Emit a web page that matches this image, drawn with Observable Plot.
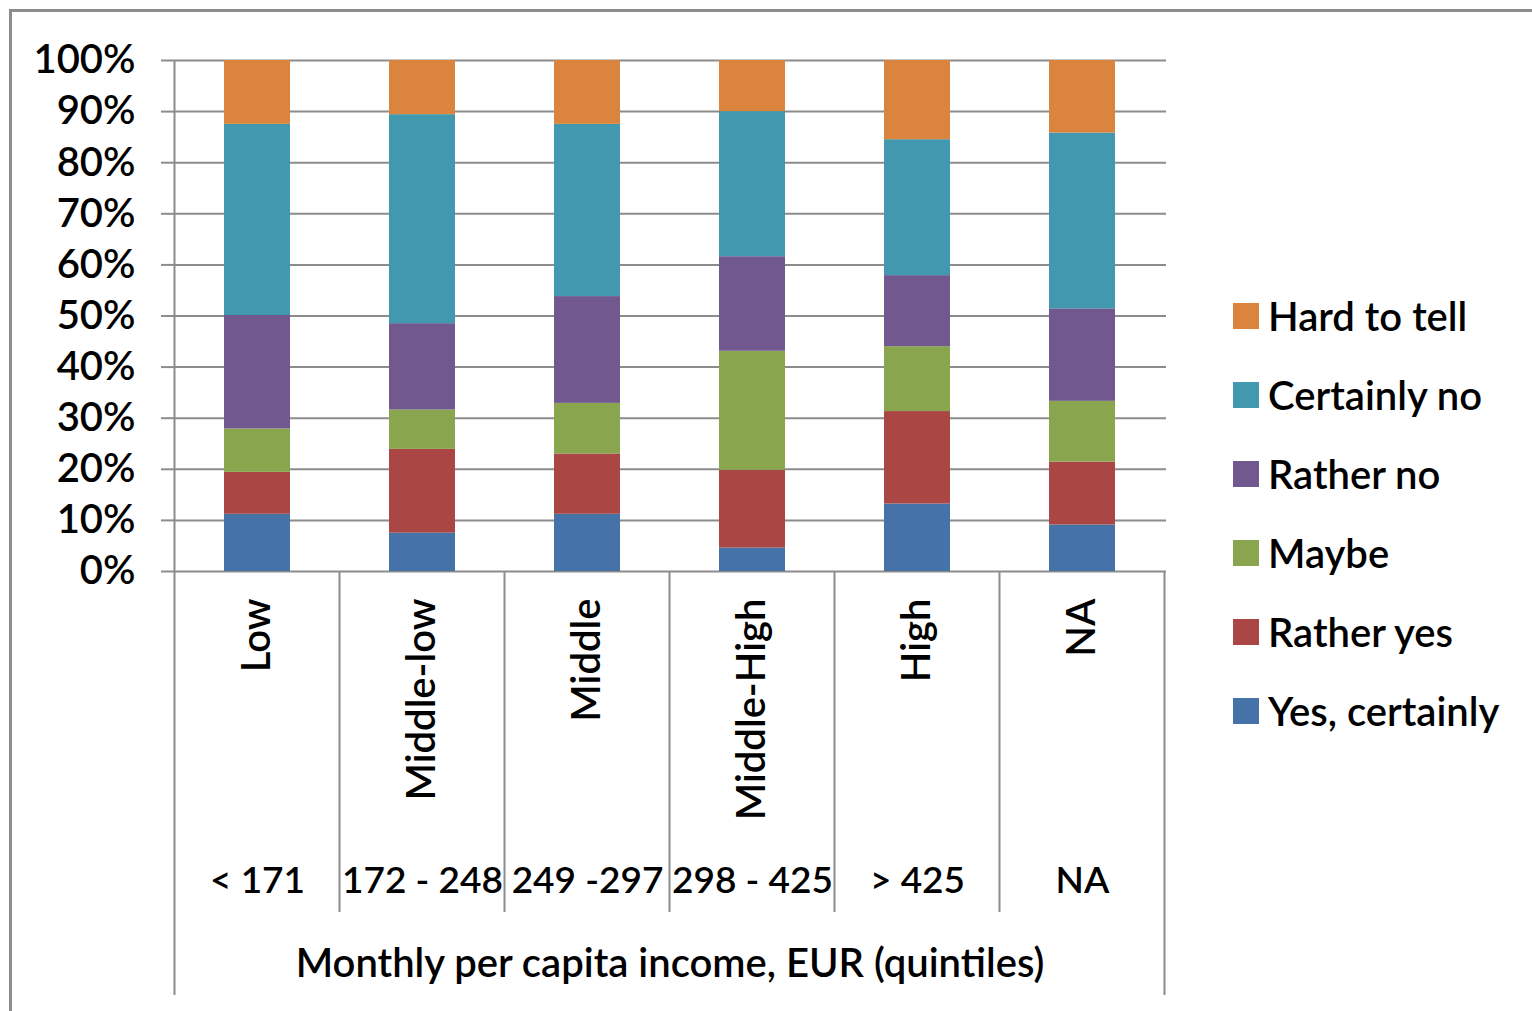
<!DOCTYPE html>
<html>
<head>
<meta charset="utf-8">
<script src="https://cdn.jsdelivr.net/npm/d3@7"></script>
<script src="https://cdn.jsdelivr.net/npm/@observablehq/plot@0.6"></script>
<style>
  html, body { margin: 0; padding: 0; background: #fff; }
  #wrap { position: relative; width: 1532px; height: 1011px; overflow: hidden; background: #fff; font-family: Lato, "Open Sans", sans-serif; }
  #frame { position: absolute; left: 9px; top: 9px; width: 1700px; height: 1200px; border-left: 3px solid #8c8c8c; border-top: 3px solid #8c8c8c; box-sizing: border-box; }
  #chart { position: absolute; left: 0; top: 0; }
  #legend { position: absolute; left: 1233px; top: 276px; }
  .item { display: flex; align-items: center; height: 79px; font-size: 40px; font-weight: 600; color: #000; white-space: nowrap; }
  .sw { width: 26px; height: 26px; margin-right: 9px; flex: none; }
</style>
</head>
<body>
<div id="wrap">
  <div id="frame"></div>
  <div id="chart"></div>
  <div id="legend"></div>
</div>
<script>
const categories = ["Low", "Middle-low", "Middle", "Middle-High", "High", "NA"];
const ranges = ["< 171", "172 - 248", "249 -297", "298 - 425", "> 425", "NA"];
const answers = ["Yes, certainly", "Rather yes", "Maybe", "Rather no", "Certainly no", "Hard to tell"];
const yesCertainly = [11.2, 7.5, 11.2, 4.6, 13.2, 9.1];
const ratherYes = [8.2, 16.4, 11.8, 15.2, 18.1, 12.3];
const maybe = [8.5, 7.7, 9.9, 23.3, 12.7, 11.9];
const ratherNo = [22.2, 16.9, 20.9, 18.5, 13.9, 18.1];
const certainlyNo = [37.4, 40.9, 33.7, 28.4, 26.6, 34.4];
const hardToTell = [12.5, 10.6, 12.5, 10.0, 15.5, 14.2];
const yTicks = [0, 0.1, 0.2, 0.3, 0.4, 0.5, 0.6, 0.7, 0.8, 0.9, 1];
const xTitle = "Monthly per capita income, EUR (quintiles)";
const colors = ["#4572A7", "#AA4643", "#89A54E", "#71588F", "#4198AF", "#DB843D"];

const series = [yesCertainly, ratherYes, maybe, ratherNo, certainlyNo, hardToTell];
const rows = [];
answers.forEach((a, j) => categories.forEach((c, i) => rows.push({category: c, answer: a, value: series[j][i] / 100})));

const fontStyle = {fontFamily: "Lato, 'Open Sans', sans-serif", fontSize: "40px", fontWeight: 600, color: "#000", background: "transparent", overflow: "visible"};

const plot = Plot.plot({
  width: 1532,
  height: 1011,
  marginLeft: 173,
  marginRight: 366,
  marginTop: 60,
  marginBottom: 440,
  style: fontStyle,
  x: {domain: categories, paddingInner: 0.6, paddingOuter: 0.3, align: 0.5},
  y: {domain: [0, 1]},
  color: {domain: answers, range: colors},
  marks: [
    Plot.gridY(yTicks, {stroke: "#8c8c8c", strokeOpacity: 1, strokeWidth: 2}),
    Plot.barY(rows, {x: "category", y: "value", fill: "answer", order: answers}),
    Plot.axisY(yTicks, {tickSize: 12, tickPadding: 26, tickFormat: d3.format(".0%"), stroke: "#8c8c8c", strokeWidth: 2, label: null, fill: "#000"}),
    Plot.axisX({tickSize: 0, tickRotate: -90, tickPadding: 27, label: null, fill: "#000"}),
    Plot.axisX({tickSize: 0, tickPadding: 295, fontSize: 37, tickFormat: d => ranges[categories.indexOf(d)], label: null, fill: "#000"}),
    Plot.text([xTitle], {frameAnchor: "bottom", dy: 405, fill: "#000"})
  ]
});
document.getElementById("chart").appendChild(plot);

// separator lines under the category axis, positioned from Plot's own scales
const xs = plot.scale("x");
const ys = plot.scale("y");
const gap = xs.step - xs.bandwidth;
const bounds = categories.map(c => xs.apply(c) - gap / 2);
bounds.push(bounds[bounds.length - 1] + xs.step);
const y0 = ys.apply(0);
const yTop = ys.apply(1);
const svg = d3.select(plot);
const g = svg.append("g").attr("stroke", "#8c8c8c").attr("stroke-width", 2);
bounds.forEach((b, i) => {
  const outer = i === 0 || i === bounds.length - 1;
  g.append("line")
    .attr("x1", b).attr("x2", b)
    .attr("y1", i === 0 ? yTop : y0)
    .attr("y2", outer ? y0 + 424 : y0 + 341);
});

// legend (top to bottom: reverse stacking order)
const legend = d3.select("#legend");
answers.slice().reverse().forEach(a => {
  const it = legend.append("div").attr("class", "item");
  it.append("div").attr("class", "sw").style("background", colors[answers.indexOf(a)]);
  it.append("span").text(a);
});
</script>
</body>
</html>
